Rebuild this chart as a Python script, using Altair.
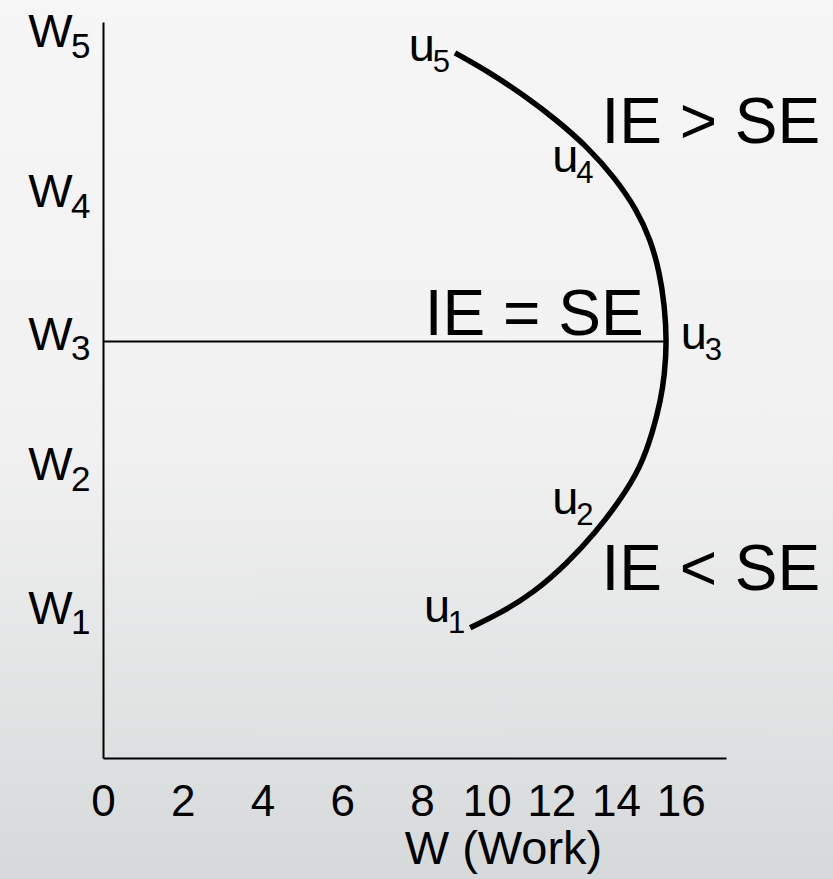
import altair as alt
import pandas as pd

FONT = "Liberation Sans"

# Hours of work axis: 0-8 is drawn wider than 8-16 (piecewise linear scale)
x_stops = [0, 8, 17.4]
x_range = [0, 319, 623]
x_ticks = [0, 2, 4, 6, 8, 10, 12, 14, 16]

# Backward-bending labour supply curve, traced from u5 (top) down to u1
curve_hours = [9.02, 10.11, 11.13, 12.16, 13.12, 13.95, 14.64, 15.07, 15.35, 15.50,
               15.57, 15.50, 15.38, 15.13, 14.76, 14.14, 13.36, 12.50, 11.44, 10.43, 9.49]
curve_wage = [9.58, 9.31, 9.01, 8.67, 8.30, 7.89, 7.45, 7.04, 6.59, 6.15,
              5.66, 5.20, 4.86, 4.42, 3.95, 3.51, 3.06, 2.65, 2.24, 1.97, 1.77]

# Wage levels W1..W5
wage_levels = [1.94, 3.89, 5.66, 7.60, 9.77]
wage_subs = ["1", "2", "3", "4", "5"]

# Utility points u1..u5 along the curve (label anchors)
u_hours = [8.06, 12.03, 16.0, 12.03, 7.67]
u_wage = [1.85, 3.32, 5.56, 7.96, 9.47]
u_subs = ["1", "2", "3", "4", "5"]

# Region annotations
note_text = ["IE > SE", "IE = SE", "IE < SE"]
note_hours = [16.93, 11.47, 16.93]
note_wage = [8.36, 5.75, 2.28]

curve_df = pd.DataFrame({"x": curve_hours, "y": curve_wage, "i": range(len(curve_hours))})
levels_df = pd.DataFrame({"y": wage_levels, "sub": wage_subs})
w3_df = pd.DataFrame({"x": [0], "x2": [max(curve_hours)], "y": [wage_levels[2]]})
u_df = pd.DataFrame({"x": u_hours, "y": u_wage, "sub": u_subs})
note_df = pd.DataFrame({"x": note_hours, "y": note_wage, "t": note_text})

xscale = alt.Scale(domain=x_stops, range=x_range, nice=False, zero=False)
yscale = alt.Scale(domain=[0, 10], nice=False, zero=False)

xaxis = alt.Axis(
    values=x_ticks, format="d", title="W (Work)", zindex=1,
    titleX=400, titleY=105, titleAlign="center", titleBaseline="alphabetic",
    titleFont=FONT, titleFontSize=47, titleFontWeight="normal", titleColor="black",
    labelFont=FONT, labelFontSize=44, labelColor="black", labelPadding=22,
    labelFlush=False, labelOverlap=False,
    ticks=False, tickSize=0, grid=False, domainColor="black", domainWidth=2,
)
yaxis = alt.Axis(
    values=wage_levels, labelExpr="'W'", title="", zindex=1,
    labelFont=FONT, labelFontSize=47, labelColor="black",
    labelAlign="right", labelBaseline="alphabetic", labelPadding=31, labelOffset=8,
    labelFlush=False, labelOverlap=False,
    ticks=False, tickSize=0, grid=False, domainColor="black", domainWidth=2,
)


def X(field):
    return alt.X(field, type="quantitative", scale=xscale, axis=xaxis)


def Y(field):
    return alt.Y(field, type="quantitative", scale=yscale, axis=yaxis)


# Slide-style grey gradient behind everything
background = alt.Chart(pd.DataFrame({"a": [0]})).mark_rect(
    fill=alt.Gradient(
        gradient="linear", x1=0, x2=0, y1=0, y2=1,
        stops=[
            alt.GradientStop(offset=0, color="#f6f6f6"),
            alt.GradientStop(offset=0.5, color="#f1f1f1"),
            alt.GradientStop(offset=1, color="#d6d9da"),
        ],
    ),
).encode(
    x=alt.value(-103), x2=alt.value(730), y=alt.value(-22), y2=alt.value(857)
)

curve = alt.Chart(curve_df).mark_line(
    color="black", strokeWidth=5.5, interpolate="basis"
).encode(x=X("x"), y=Y("y"), order="i:Q")

w3_line = alt.Chart(w3_df).mark_rule(color="black", strokeWidth=2).encode(
    x=X("x"), x2="x2", y=Y("y")
)

w_subs = alt.Chart(levels_df).mark_text(
    font=FONT, fontSize=35, color="black", align="left", baseline="alphabetic", dy=19
).encode(x=alt.value(-32), y=Y("y"), text="sub")

u_main = alt.Chart(u_df).mark_text(
    font=FONT, fontSize=47, color="black", align="left", baseline="alphabetic"
).encode(x=X("x"), y=Y("y"), text=alt.value("u"))

u_sub = alt.Chart(u_df).mark_text(
    font=FONT, fontSize=31, color="black", align="left", baseline="alphabetic", dx=24, dy=11
).encode(x=X("x"), y=Y("y"), text="sub")

notes = alt.Chart(note_df).mark_text(
    font=FONT, fontSize=64, color="black", align="center", baseline="alphabetic"
).encode(x=X("x"), y=Y("y"), text="t")

chart = alt.layer(
    background, w3_line, curve, w_subs, u_main, u_sub, notes
).properties(
    width=623, height=736,
    autosize="none",
    padding={"left": 103, "top": 22, "right": 107, "bottom": 121},
    background="#f2f2f2",
).configure_view(stroke=None)

chart.save("out.html", embed_options={"renderer": "svg", "actions": False})
